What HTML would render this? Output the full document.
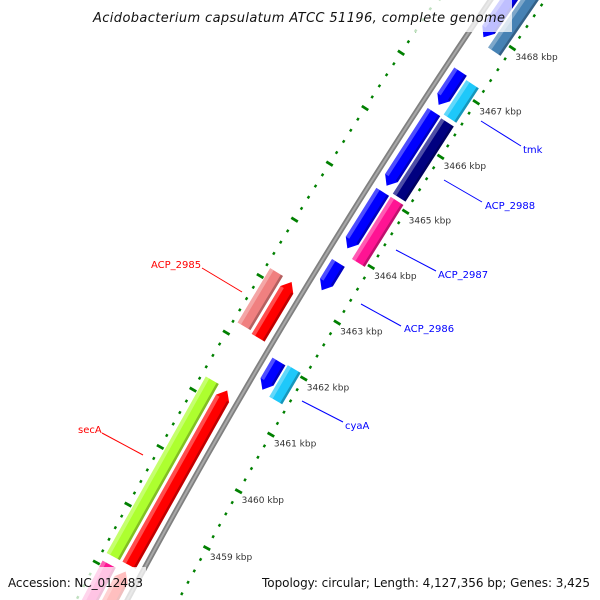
<!DOCTYPE html>
<html><head><meta charset="utf-8"><style>
html,body{margin:0;padding:0;background:#fff;width:600px;height:600px;overflow:hidden;}
svg{display:block;overflow:hidden;}
</style></head><body>
<svg id="map" width="600" height="600" viewBox="0 0 600 600" xmlns="http://www.w3.org/2000/svg">
<rect x="0" y="0" width="600" height="600" fill="#fff"/>
<g id="rulers"></g>
<g id="backbone"></g>
<g id="features"></g>
<g id="labels">
  <line x1="481" y1="121" x2="521" y2="146" stroke="#0000ff" stroke-width="1"/>
  <text x="523" y="153" font-family="DejaVu Sans, sans-serif" font-size="10" fill="#0000ff">tmk</text>
  <line x1="444" y1="180" x2="482" y2="202" stroke="#0000ff" stroke-width="1"/>
  <text x="485" y="209" font-family="DejaVu Sans, sans-serif" font-size="10" fill="#0000ff">ACP_2988</text>
  <line x1="396" y1="250" x2="436" y2="271" stroke="#0000ff" stroke-width="1"/>
  <text x="438" y="278" font-family="DejaVu Sans, sans-serif" font-size="10" fill="#0000ff">ACP_2987</text>
  <line x1="361" y1="304" x2="401" y2="326" stroke="#0000ff" stroke-width="1"/>
  <text x="404" y="332" font-family="DejaVu Sans, sans-serif" font-size="10" fill="#0000ff">ACP_2986</text>
  <line x1="302" y1="401" x2="343" y2="422" stroke="#0000ff" stroke-width="1"/>
  <text x="345" y="429" font-family="DejaVu Sans, sans-serif" font-size="10" fill="#0000ff">cyaA</text>
  <line x1="202" y1="268" x2="242" y2="292" stroke="#ff0000" stroke-width="1"/>
  <text x="151" y="268" font-family="DejaVu Sans, sans-serif" font-size="10" fill="#ff0000">ACP_2985</text>
  <line x1="102" y1="433" x2="143" y2="455" stroke="#ff0000" stroke-width="1"/>
  <text x="78" y="433" font-family="DejaVu Sans, sans-serif" font-size="10" fill="#ff0000">secA</text>
</g>
<rect x="86" y="0" width="426" height="32" fill="#fff" opacity="0.75"/>
<text x="93" y="22" font-family="DejaVu Sans, sans-serif" font-style="italic" font-size="13" textLength="412" fill="#111">Acidobacterium capsulatum ATCC 51196, complete genome</text>
<rect x="0" y="567" width="146" height="33" fill="#fff" opacity="0.75"/>
<rect x="256" y="567" width="344" height="33" fill="#fff" opacity="0.75"/>
<text x="8" y="587" font-family="DejaVu Sans, sans-serif" font-size="12" textLength="135" fill="#111">Accession: NC_012483</text>
<text x="262" y="587" font-family="DejaVu Sans, sans-serif" font-size="12" textLength="328" fill="#111">Topology: circular; Length: 4,127,356 bp; Genes: 3,425</text>
</svg>
<script>
// ---- data ----
const featStart = [3461.53, 3463.30, 3464.05, 3465.18, 3466.65, 3467.89, 3461.49, 3463.95, 3465.13, 3466.57, 3467.80, 3462.18, 3458.20, 3456.00, 3462.22, 3458.20, 3456.00];
const featEnd   = [3462.03, 3463.79, 3465.07, 3466.52, 3467.26, 3470.00, 3462.05, 3465.07, 3466.50, 3467.20, 3470.00, 3463.17, 3461.25, 3458.09, 3463.18, 3461.27, 3458.07];
const featLane  = [-1, -1, -1, -1, -1, -1, -2, -2, -2, -2, -2, 1, 1, 1, 2, 2, 2];
const featShape = ['rev','rev','rev','rev','rev','rev','box','box','box','box','box','fwd','fwd','fwd','box','box','box'];
const featColor = ['#0000ff','#0000ff','#0000ff','#0000ff','#0000ff','#0000ff','#1ec8fa','#ff1493','#000080','#1ec8fa','#4682b4','#ff0000','#ff0000','#ff0000','#f08080','#adff2f','#ff1493'];
const featName  = ['acp-2986-arrow','gene-3463-arrow','gene-3464-arrow','acp-2988-arrow','gene-3467-arrow','gene-3468-arrow','cyaa-bar','acp-2987-bar','gene-3466-bar','tmk-bar','gene-3468-bar','acp-2985-arrow','seca-arrow','gene-3458-arrow','acp-2985-bar','seca-bar','gene-3457-bar'];
const tickLabels = [3459, 3460, 3461, 3462, 3463, 3464, 3465, 3466, 3467, 3468];
const rulerRange = [3456.6, 3470.2];

// ---- geometry (arc axis) ----
const CX = 6050, CY = 3775, RBB = 6720;
const PHI0 = -151.09, U0 = 3459, DEG_PER_KBP = 0.559;
const LANE_D = {'-2': -32, '-1': -15, '1': 15, '2': 33};
const HALF_W = 7.5;
function P(u, d) {
  const phi = (PHI0 + DEG_PER_KBP * (u - U0)) * Math.PI / 180;
  const r = RBB + d;
  return [CX + r * Math.cos(phi), CY + r * Math.sin(phi)];
}
function pts(arr) { return arr.map(p => { const q = P(p[0], p[1]); return q[0].toFixed(2) + ',' + q[1].toFixed(2); }).join(' '); }
const NS = 'http://www.w3.org/2000/svg';

// rulers
const rg = document.getElementById('rulers');
[-45, 45].forEach(function (dr) {
  const n = Math.round((rulerRange[1] - rulerRange[0]) / 0.2);
  for (let i = 0; i <= n; i++) {
    const u = rulerRange[0] + i * 0.2;
    const major = Math.abs(u - Math.round(u)) < 0.01;
    const len = major ? 3.8 : 1.2;
    const a = P(u, dr - len), b = P(u, dr + len);
    const t = document.createElementNS(NS, 'line');
    
    
    t.setAttribute('x1', a[0]); t.setAttribute('y1', a[1]);
    t.setAttribute('x2', b[0]); t.setAttribute('y2', b[1]);
    t.setAttribute('stroke', '#008000'); t.setAttribute('stroke-width', '2.8');
    rg.appendChild(t);
  }
});
tickLabels.forEach(function (k) {
  const p = P(k, -45);
  const t = document.createElementNS(NS, 'text');
  
  
  t.setAttribute('x', p[0] + 3); t.setAttribute('y', p[1] + 12);
  t.setAttribute('font-family', 'DejaVu Sans, sans-serif');
  t.setAttribute('font-size', '9'); t.setAttribute('fill', '#333');
  t.textContent = k + ' kbp';
  rg.appendChild(t);
});

// backbone
const bg = document.getElementById('backbone');
const bbPts = [];
for (let u = 3455.5; u <= 3470.5; u += 0.25) bbPts.push([u, 0]);
[['#808080', 5.5], ['#a8a8a8', 2]].forEach(function (s) {
  const pl = document.createElementNS(NS, 'polyline');
  
  
  pl.setAttribute('points', pts(bbPts));
  pl.setAttribute('fill', 'none'); pl.setAttribute('stroke', s[0]); pl.setAttribute('stroke-width', s[1]);
  bg.appendChild(pl);
});

// features
const fg = document.getElementById('features');
const AH = 0.14;
for (let i = 0; i < featStart.length; i++) {
  const u1 = featStart[i], u2 = featEnd[i], dc = LANE_D[featLane[i]];
  const lo = dc - HALF_W, hi = dc + HALF_W;
  let shape;
  if (featShape[i] === 'fwd') shape = [[u1, lo], [u2 - AH, lo], [u2, dc], [u2 - AH, hi], [u1, hi]];
  else if (featShape[i] === 'rev') shape = [[u1 + AH, lo], [u2, lo], [u2, hi], [u1 + AH, hi], [u1, dc]];
  else shape = [[u1, lo], [u2, lo], [u2, hi], [u1, hi]];
  const g = document.createElementNS(NS, 'g');
  
  
  const poly = document.createElementNS(NS, 'polygon');
  
  
  poly.setAttribute('points', pts(shape));
  poly.setAttribute('fill', featColor[i]);
  g.appendChild(poly);
  const a1 = featShape[i] === 'rev' ? u1 + AH : u1;
  const a2 = featShape[i] === 'fwd' ? u2 - AH : u2;
  const hl = document.createElementNS(NS, 'polygon');
  
  
  hl.setAttribute('points', pts([[a1, hi - 4], [a2, hi - 4], [a2, hi], [a1, hi]]));
  hl.setAttribute('fill', '#fff'); hl.setAttribute('opacity', '0.3');
  g.appendChild(hl);
  const sh = document.createElementNS(NS, 'polygon');
  
  
  sh.setAttribute('points', pts([[a1, lo], [a2, lo], [a2, lo + 2.5], [a1, lo + 2.5]]));
  sh.setAttribute('fill', '#000'); sh.setAttribute('opacity', '0.25');
  g.appendChild(sh);
  fg.appendChild(g);
}
</script>
</body></html>
